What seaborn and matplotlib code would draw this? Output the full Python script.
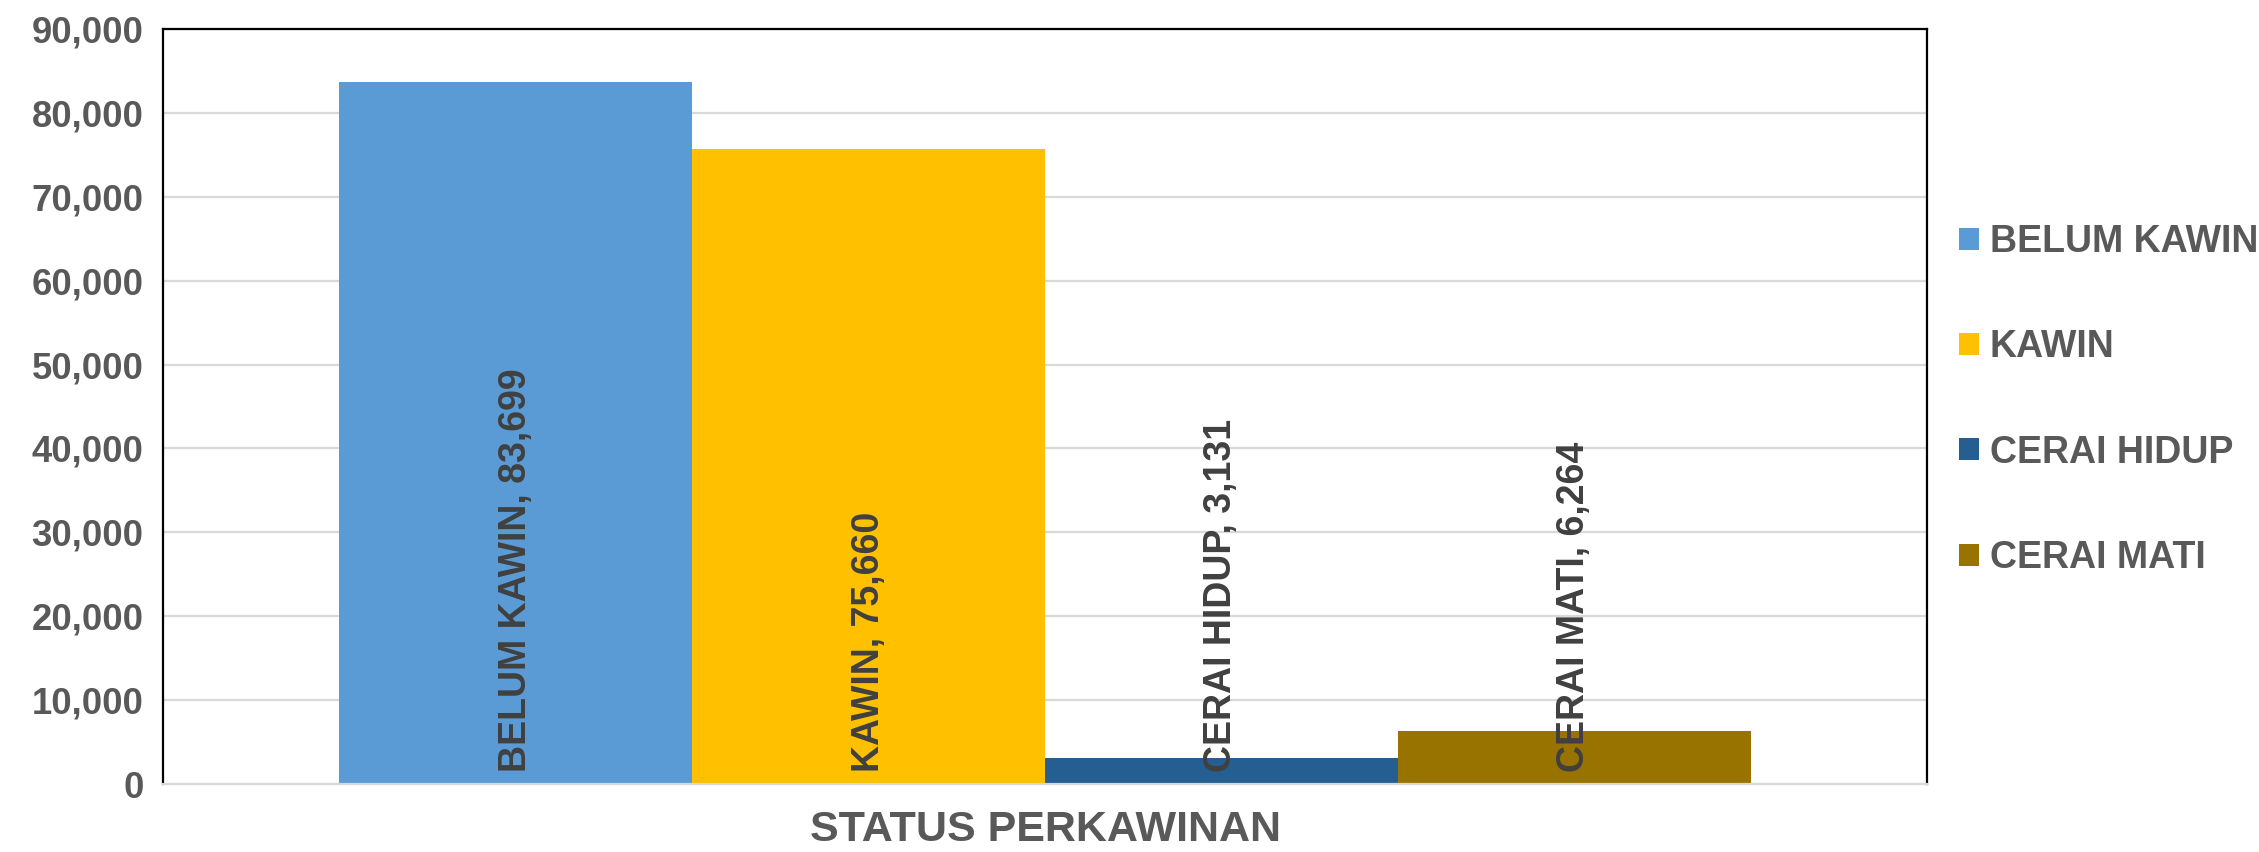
import matplotlib
matplotlib.use("Agg")
import matplotlib.pyplot as plt
import pandas as pd
import seaborn as sns
from matplotlib.ticker import FuncFormatter, MultipleLocator

# data
category = "STATUS PERKAWINAN"
statuses = ["BELUM KAWIN", "KAWIN", "CERAI HIDUP", "CERAI MATI"]
counts = [83699, 75660, 3131, 6264]
colors = ["#5B9BD5", "#FFC000", "#255E91", "#997300"]

TICK_GRAY = "#595959"
LABEL_GRAY = "#404040"


def main() -> None:
    sns.set_theme(style="white")
    plt.rcParams["font.family"] = ["Liberation Sans", "DejaVu Sans"]
    plt.rcParams["font.weight"] = "bold"

    df = pd.DataFrame({"group": [category] * len(statuses), "status": statuses, "count": counts})

    fig = plt.figure(figsize=(22.59, 8.52), dpi=100)
    ax = fig.add_axes([163 / 2259, 1 - 784 / 852, (1927 - 163) / 2259, (784 - 29) / 852])

    sns.barplot(
        data=df,
        x="group",
        y="count",
        hue="status",
        hue_order=statuses,
        palette=colors,
        saturation=1,
        width=0.8,
        linewidth=0,
        ax=ax,
        legend=True,
    )

    ax.set_ylim(0, 90000)
    ax.yaxis.set_major_locator(MultipleLocator(10000))
    ax.yaxis.set_major_formatter(FuncFormatter(lambda v, _: f"{v:,.0f}"))
    ax.set_axisbelow(True)
    ax.grid(axis="y", color="#d9d9d9", linewidth=1.6)
    ax.grid(axis="x", visible=False)

    ax.set_xlabel("")
    ax.set_ylabel("")
    ax.tick_params(axis="y", length=0, pad=14, labelsize=26.3, labelcolor=TICK_GRAY)
    ax.tick_params(axis="x", length=0, pad=19, labelsize=31, labelcolor=TICK_GRAY)
    for lbl in ax.get_xticklabels() + ax.get_yticklabels():
        lbl.set_fontweight("bold")

    for side in ["left", "top", "right"]:
        ax.spines[side].set_visible(True)
        ax.spines[side].set_color("black")
        ax.spines[side].set_linewidth(1.6)
    ax.spines["bottom"].set_color("#d9d9d9")
    ax.spines["bottom"].set_linewidth(1.6)

    # rotated labels sitting at the base of each bar
    bars = [p for p in ax.patches if p.get_height() > 0]
    bars.sort(key=lambda p: p.get_x())
    for patch, name, val in zip(bars, statuses, counts):
        cx = patch.get_x() + patch.get_width() / 2
        ax.annotate(
            f"{name}, {val:,}",
            xy=(cx, 0),
            xytext=(0, 9),
            textcoords="offset points",
            rotation=90,
            ha="center",
            va="bottom",
            fontsize=27,
            fontweight="bold",
            color=LABEL_GRAY,
        )

    handles, labels = ax.get_legend_handles_labels()
    ax.get_legend().remove()
    leg = fig.legend(
        handles,
        labels,
        loc="center left",
        bbox_to_anchor=(1959 / 2259, 1 - 400 / 852),
        frameon=False,
        fontsize=27,
        handlelength=0.52,
        handleheight=0.52,
        handletextpad=0.3,
        labelspacing=1.85,
        borderpad=0,
        borderaxespad=0,
    )
    for t in leg.get_texts():
        t.set_color(TICK_GRAY)
        t.set_fontweight("bold")

    fig.savefig("out.png", dpi=100, facecolor="white")
    plt.close(fig)


if __name__ == "__main__":
    main()
